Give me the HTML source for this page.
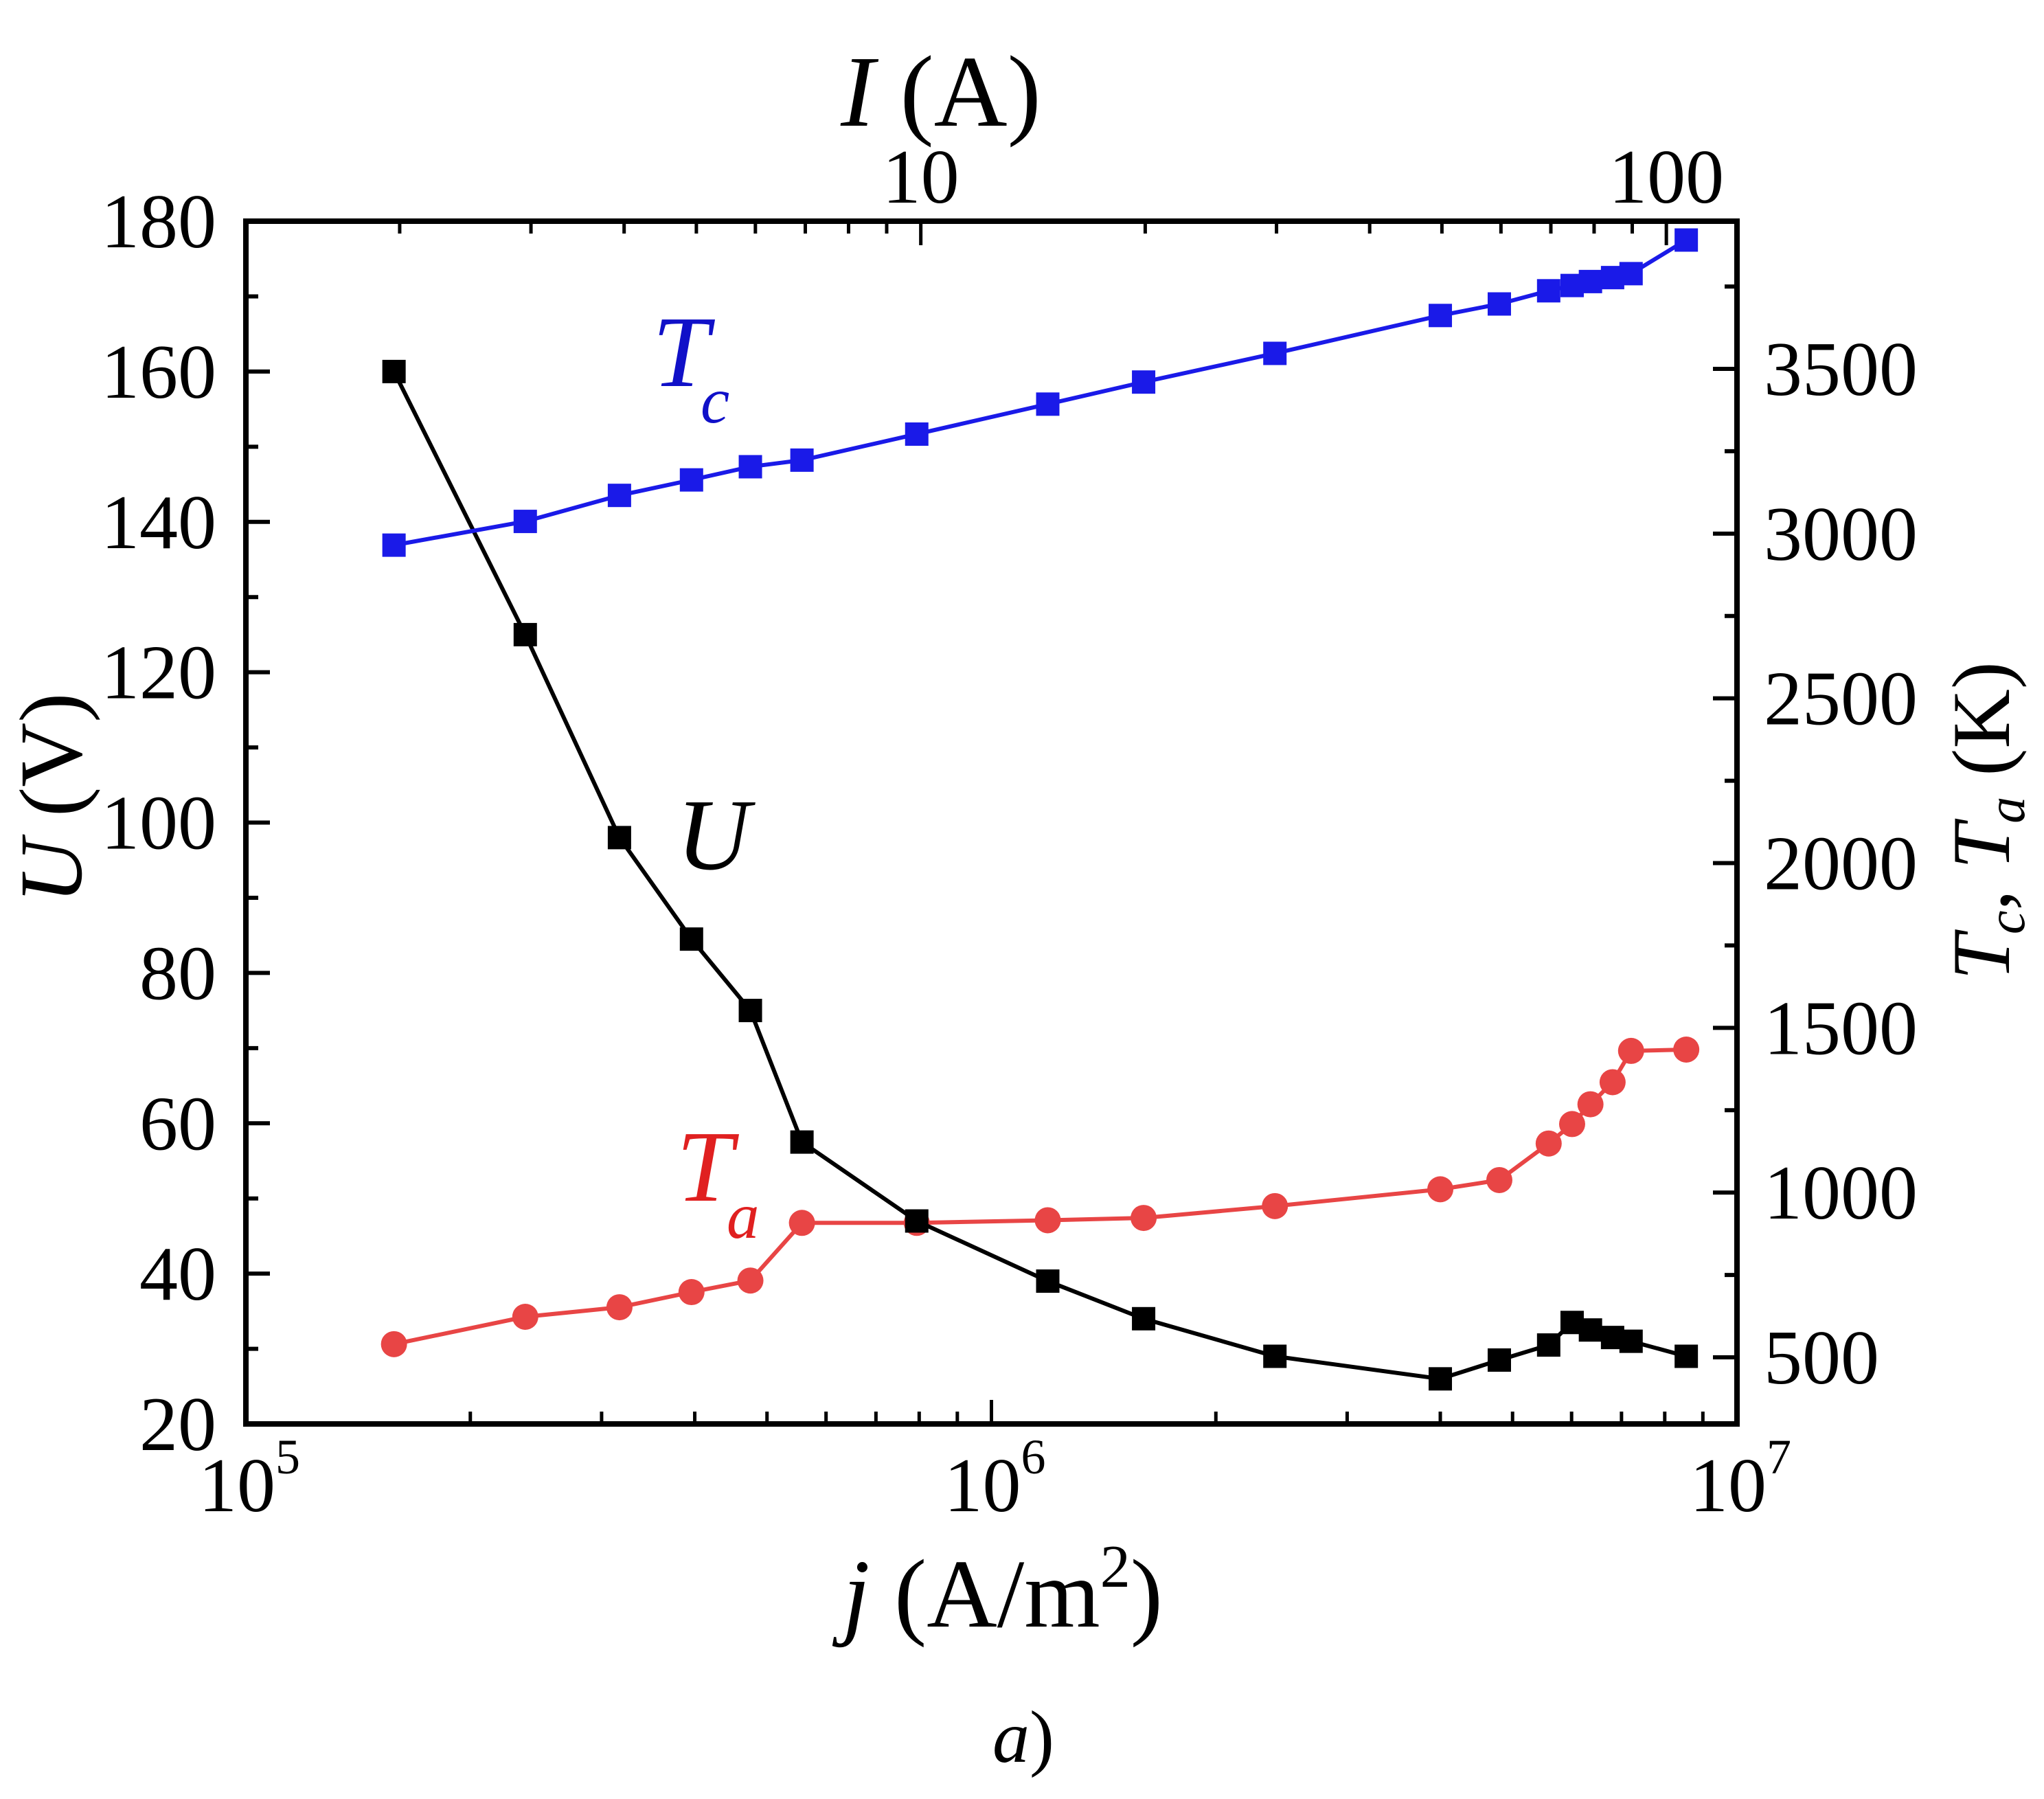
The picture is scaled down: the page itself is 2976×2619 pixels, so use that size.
<!DOCTYPE html>
<html><head><meta charset="utf-8"><style>
html,body{margin:0;padding:0;background:#fff;}
svg{display:block;font-family:"Liberation Serif",serif;}
</style></head><body>
<svg id="chart" width="2976" height="2619" viewBox="0 0 2976 2619" xmlns="http://www.w3.org/2000/svg">
<rect x="0" y="0" width="2976" height="2619" fill="#fff"/>
<g id="ticks"></g>
<g id="series"></g>
<rect x="358" y="322" width="2171" height="1751" fill="none" stroke="#000" stroke-width="8"/>
<g id="labels"></g>
<text x="1370" y="183" font-size="148" text-anchor="middle"><tspan font-style="italic">I</tspan> (A)</text>
<text x="1460" y="2368" font-size="142" text-anchor="middle"><tspan font-style="italic">j</tspan> (A/m<tspan font-size="88" dy="-58">2</tspan><tspan dy="58">)</tspan></text>
<text transform="translate(118,1162) rotate(-90)" font-size="130" text-anchor="middle"><tspan font-style="italic">U</tspan> (V)</text>
<text transform="translate(2925,1195) rotate(-90)" font-size="120" text-anchor="middle"><tspan font-style="italic">T</tspan><tspan font-style="italic" font-size="78" dy="22">c</tspan><tspan dy="-22">, </tspan><tspan font-style="italic">T</tspan><tspan font-style="italic" font-size="78" dy="22">a</tspan><tspan dy="-22"> (K)</tspan></text>
<text x="950" y="562" font-size="148" font-style="italic" fill="#1010c8">T</text>
<text x="1020" y="615" font-size="95" font-style="italic" fill="#1010c8">c</text>
<text x="985" y="1265" font-size="148" font-style="italic" fill="#000">U</text>
<text x="985" y="1748" font-size="148" font-style="italic" fill="#e02020">T</text>
<text x="1058" y="1802" font-size="95" font-style="italic" fill="#e02020">a</text>
<text x="1490" y="2565" font-size="108" text-anchor="middle"><tspan font-style="italic">a</tspan>)</text>
</svg>
<script>
const jValues = [1.58e5,2.37e5,3.17e5,3.96e5,4.75e5,5.57e5,7.94e5,1.19e6,1.60e6,2.40e6,4.0e6,4.8e6,5.59e6,6.01e6,6.36e6,6.81e6,7.21e6,8.55e6];
const uValues = [160,125,98,84.5,75,57.5,47,39,34,29,26,28.5,30.5,33.5,32.5,31.5,31,29];
const tcValues = [2965,3037,3116,3163,3203,3223,3302,3393,3460,3547,3662,3697,3737,3753,3765,3777,3789,3891];
const taValues = [540,623,652,698,733,908,908,916,923,959,1010,1038,1149,1208,1268,1335,1430,1434];
const uTicks = [20,40,60,80,100,120,140,160,180];
const tTicks = [500,1000,1500,2000,2500,3000,3500];
const xTickExps = [5,6,7];
const iTickLabels = [10,100];

const L=358,R=2529,T=322,B=2073, NS="http://www.w3.org/2000/svg";
const xs = j => L + (Math.log10(j)-5)/2*(R-L);
const yU = u => B - (u-20)/160*(B-T);
const yT = t => 1976 - (t-500)*(1439/3000);
const jPerA = 8.04e4;
const xI = i => xs(i*jPerA);

function mk(tag, attrs, parent){const e=document.createElementNS(NS,tag);for(const k in attrs)e.setAttribute(k,attrs[k]);parent.appendChild(e);return e;}
const tk=document.getElementById('ticks'), lb=document.getElementById('labels'), sr=document.getElementById('series');
function line(x1,y1,x2,y2,w){const e=mk('line',{x1,y1,x2,y2,stroke:'#000','stroke-width':w},tk);

}
for(let u=20;u<=180;u+=10){const y=yU(u);line(L,y,L+(u%20==0?35:18),y,6);}
uTicks.forEach(u=>{const t=mk('text',{x:315,y:yU(u)+38,'font-size':112,'text-anchor':'end'},lb);t.textContent=u;

});
for(let v=500;v<=3750;v+=250){const y=yT(v);if(y<T||y>B)continue;line(R,y,R-(v%500==0?35:18),y,6);}
tTicks.forEach(v=>{const t=mk('text',{x:2568,y:yT(v)+38,'font-size':112},lb);t.textContent=v;

});
for(let e=5;e<7;e++)for(let m=1;m<10;m++){const x=xs(m*Math.pow(10,e));line(x,B,x,B-(m==1?35:18),5);}
xTickExps.forEach(e=>{const x=xs(Math.pow(10,e));const t=mk('text',{x:x+5,y:2200,'font-size':112,'text-anchor':'middle'},lb);


const a=mk('tspan',{},t);a.textContent='10';const s=mk('tspan',{'font-size':72,dy:-55},t);s.textContent=e;});
for(let e=0;e<3;e++)for(let m=1;m<10;m++){const i=m*Math.pow(10,e);const x=xI(i);if(x<L+2||x>R-2)continue;line(x,T,x,T+(m==1?35:18),5);}
iTickLabels.forEach(i=>{const t=mk('text',{x:xI(i),y:295,'font-size':112,'text-anchor':'middle'},lb);t.textContent=i;

});
function series(vals,yf,color,shape,name){
  const g=mk('g',{},sr);
  
  
  const pts=jValues.map((j,k)=>[xs(j),yf(vals[k])]);
  const p=mk('polyline',{points:pts.map(p=>p.join(',')).join(' '),fill:'none',stroke:color,'stroke-width':6},g);
  
  
  pts.forEach(([x,y])=>{let m;
    if(shape=='sq') m=mk('rect',{x:x-17,y:y-17,width:34,height:34,fill:color},g);
    else m=mk('circle',{cx:x,cy:y,r:19,fill:color},g);
    
    });
}
series(taValues,yT,'#e84545','c','ta');
series(uValues,yU,'#000','sq','u');
series(tcValues,yT,'#1a1ae8','sq','tc');
</script>
</body></html>
